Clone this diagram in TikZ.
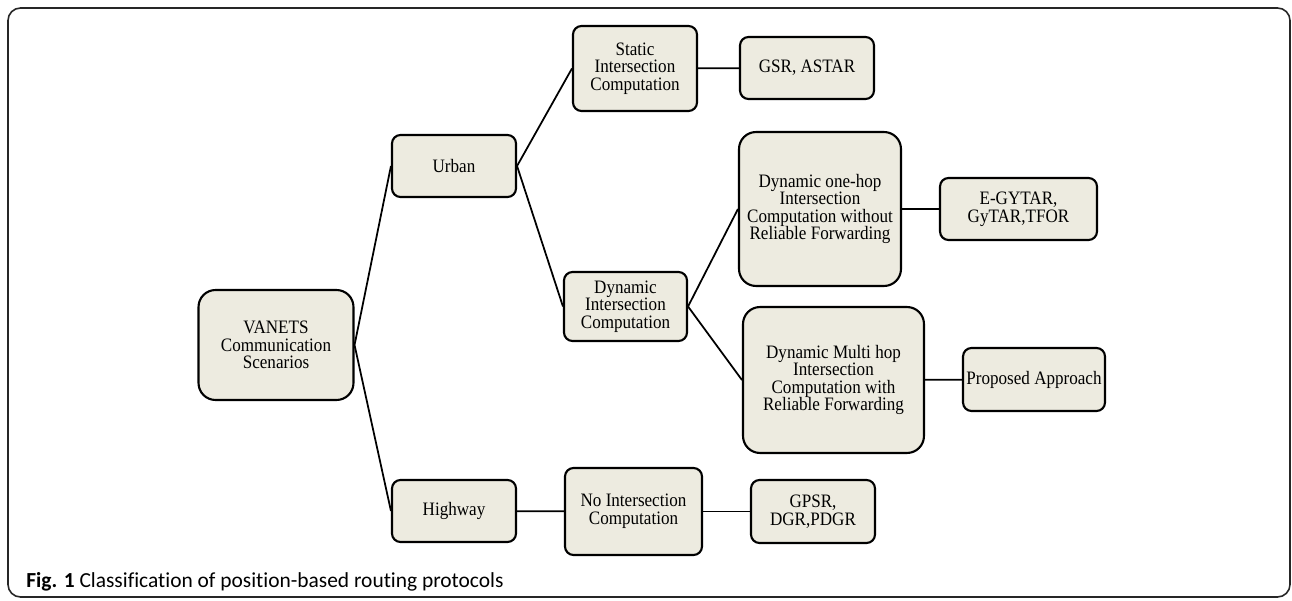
\documentclass[tikz,border=0pt]{standalone}
\usepackage{fontspec}
\setmainfont{Liberation Serif}[FakeStretch=0.9]
\newfontfamily\capfont{Carlito}[Ligatures=NoCommon]
\usepackage{tikz}
\usetikzlibrary{positioning,calc}

\definecolor{boxfill}{RGB}{237,235,224}

\begin{document}
\begin{tikzpicture}[
x=0.02cm, y=-0.02cm,
box/.style={
draw,
line width=1.2pt,
fill=boxfill,
rounded corners=0.17cm,
align=center,
inner sep=0pt,
font=\fontsize{10.8}{10}\selectfont
},
bigbox/.style={
box,
rounded corners=0.34cm
},
link/.style={
line width=1pt
}
]

\useasboundingbox (0,0) rectangle (1292,601);

% Frame and caption

\draw[line width=0.9pt, rounded corners=0.25cm, black!85] (8,8) rectangle (1290,597);

\node (caption) [anchor=base west, inner sep=0pt] at (26,587)
{\capfont\fontsize{12.2}{13}\selectfont\textbf{Fig. 1} Classification of position-based routing protocols};


% Root

\node (vanets) [bigbox, minimum width=3.1cm, minimum height=2.2cm] at (276,345)
{VANETS\\Communication\\Scenarios};


% Scenarios

\node (urban) [box, minimum width=2.48cm, minimum height=1.24cm] at (454,166)
{Urban};

\node (highway) [box, minimum width=2.48cm, minimum height=1.24cm] at (454,511)
{Highway};


\draw[link] (vanets.east) -- (urban.west);
\draw[link] (vanets.east) -- (highway.west);


% Urban branch

\node (static) [box, minimum width=2.48cm, minimum height=1.7cm] at (635,68.5)
{Static\\Intersection\\Computation};

\node (dynamic) [box, minimum width=2.46cm, minimum height=1.38cm] at (625.5,306.5)
{Dynamic\\Intersection\\Computation};


\draw[link] (urban.east) -- (static.west);
\draw[link] (urban.east) -- (dynamic.west);


\node (gsr) [box, minimum width=2.68cm, minimum height=1.24cm] at (807,68)
{GSR, ASTAR};

\draw[link] (static) -- (gsr);


% Dynamic branch

\node (onehop) [bigbox, minimum width=3.24cm, minimum height=3.08cm] at (820,209)
{Dynamic one-hop\\Intersection\\Computation without\\Reliable Forwarding};

\node (multihop) [bigbox, minimum width=3.62cm, minimum height=2.92cm] at (833.5,380)
{Dynamic Multi hop\\Intersection\\Computation with\\Reliable Forwarding};


\draw[link] (dynamic.east) -- (onehop.west);
\draw[link] (dynamic.east) -- (multihop.west);


\node (gytar) [box, minimum width=3.14cm, minimum height=1.24cm] at (1018.5,209)
{E-GYTAR,\\GyTAR,TFOR};

\node (proposed) [box, minimum width=2.84cm, minimum height=1.26cm] at (1034,379.5)
{Proposed Approach};


\draw[link] (onehop) -- (gytar);
\draw[link] (multihop) -- (proposed);


% Highway branch

\node (nointer) [box, minimum width=2.74cm, minimum height=1.74cm] at (633.5,511.5)
{No Intersection\\Computation};

\node (gpsr) [box, minimum width=2.48cm, minimum height=1.26cm] at (813,511.5)
{GPSR,\\DGR,PDGR};


\draw[link] (highway) -- (nointer);
\draw[link] (nointer) -- (gpsr);


\end{tikzpicture}
\end{document}
